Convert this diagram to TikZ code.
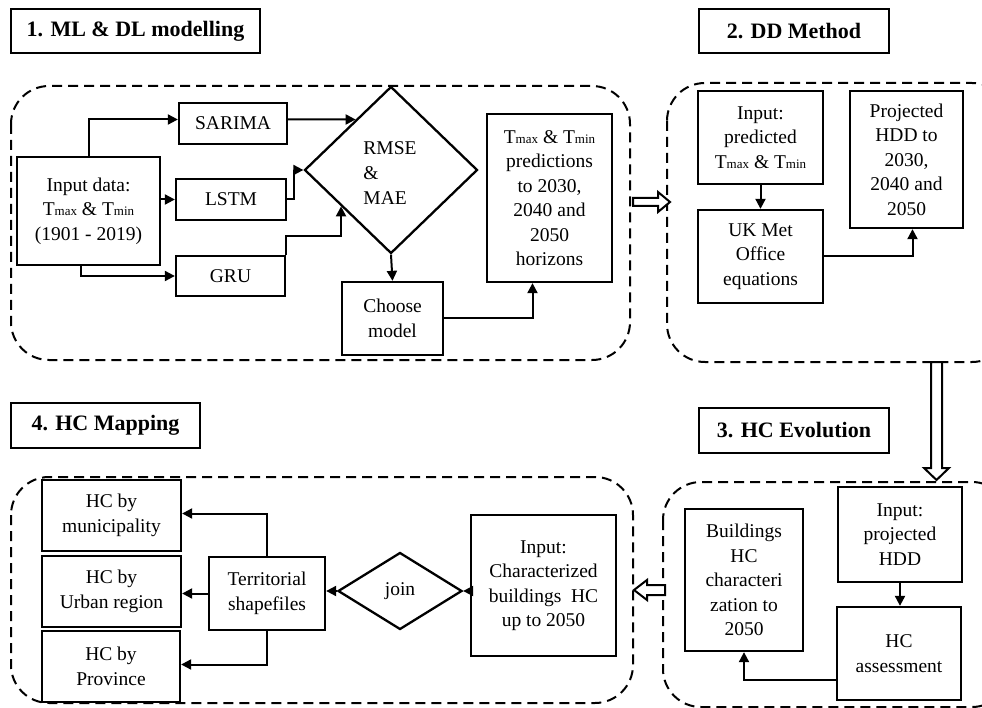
\documentclass[tikz,border=0pt]{standalone}
\usepackage{fontspec}
\setmainfont{Liberation Serif}
\usetikzlibrary{shapes.geometric,arrows.meta,calc}
\newcommand{\Tm}[1]{T{\fontsize{13}{13}\selectfont #1}}
\begin{document}
\begin{tikzpicture}[x=1pt,y=-1pt,
  box/.style={draw,line width=2.3pt,align=center,inner sep=0pt,font=\fontsize{19.5}{24.5}\selectfont},
  dbox/.style={box,diamond,shape aspect=1},
  ttl/.style={draw,line width=1.8pt,inner sep=0pt,font=\fontsize{22}{26}\selectfont\bfseries},
  panel/.style={draw,line width=2pt,dash pattern=on 10pt off 6pt,rounded corners=38pt},
  arr/.style={line width=2pt,-{Triangle[length=10pt,width=10pt]}},
  hollow/.style={draw,line width=2pt,fill=white,line join=miter}
]
\useasboundingbox (0,0) rectangle (982,708);
\clip (0,0) rectangle (982,708);

% titles
\node[ttl,minimum width=249pt,minimum height=44pt] (t1) at (135.5,31) {1. ML \& DL modelling};
\node[ttl,minimum width=190pt,minimum height=44pt] (t2) at (794,31) {2. DD Method};
\node[ttl,minimum width=190pt,minimum height=45pt] (t3) at (794,430.5) {3. HC Evolution};
\node[ttl,minimum width=189pt,minimum height=45pt] (t4) at (105.5,425.5) {4. HC Mapping};

% panels
\draw[panel] (11,86) rectangle (630,360);
\draw[panel] (667,83) rectangle (1010,362);
\draw[panel] (663,482) rectangle (1010,707);
\draw[panel] (11,477) rectangle (633,703);

% panel 1
\node[box,minimum width=143pt,minimum height=108pt] (inp) at (88.5,211) {Input data:\\\Tm{max} \& \Tm{min}\\(1901 - 2019)};
\node[box,minimum width=108pt,minimum height=41pt] (sar) at (233,123.5) {SARIMA};
\node[box,minimum width=110pt,minimum height=41pt] (lstm) at (231,199.5) {LSTM};
\node[box,minimum width=109pt,minimum height=40pt] (gru) at (230.5,276) {GRU};
\node[dbox,minimum width=173pt,minimum height=167pt] (dia) at (391,170) {};
\node[font=\fontsize{19.5}{25}\selectfont,align=left,inner sep=0pt] (diat) at (390,173) {RMSE\\\&\\MAE};
\node[box,minimum width=101pt,minimum height=73pt] (cho) at (392.5,318.5) {Choose\\model};
\node[box,minimum width=125pt,minimum height=168pt] (pred) at (549.5,198) {\Tm{max} \& \Tm{min}\\predictions\\to 2030,\\2040 and\\2050\\horizons};

\coordinate (s1) at ([yshift=4pt]sar.east -| dia.center);
\draw[arr] (inp.north) |- ([yshift=4pt]sar.west);
\draw[arr] (inp.east |- lstm.west) -- (lstm.west);
\draw[arr] ([xshift=-8pt]inp.south) |- (gru.west);
\draw[arr] ([yshift=4pt]sar.east) -- (intersection of {[yshift=4pt]sar.east}--s1 and dia.west--dia.north);
\draw[arr] (lstm.east) -- ++(7,0) |- (dia.west);
\draw[arr] (gru.north east) -- ++(0,-19) -| ($(dia.west)!0.43!(dia.south)$);
\draw[arr] (dia.south) -- (cho.north);
\draw[arr] (cho.east) -| ([xshift=-17pt]pred.south);

% panel 2
\node[box,minimum width=125pt,minimum height=93pt] (ipt) at (760.5,137.5) {Input:\\predicted\\\Tm{max} \& \Tm{min}};
\node[box,minimum width=125pt,minimum height=93pt] (ukm) at (760.5,256.5) {UK Met\\Office\\equations};
\node[box,minimum width=113pt,minimum height=137pt] (phdd) at (906.5,159.5) {Projected\\HDD to\\2030,\\2040 and\\2050};
\draw[arr] (ipt.south) -- (ukm.north);
\draw[arr] (ukm.east) -| ([xshift=6pt]phdd.south);

% panel 3
\node[box,minimum width=124pt,minimum height=95pt] (iphdd) at (900,534.5) {Input:\\projected\\HDD};
\node[box,minimum width=124pt,minimum height=93pt] (hca) at (899,653.5) {HC\\assessment};
\node[box,minimum width=118pt,minimum height=142pt] (bhc) at (744,580) {Buildings\\HC\\characteri\\zation to\\2050};
\draw[arr] (iphdd.south) -- (iphdd.south |- hca.north);
\draw[arr] ([yshift=-26pt]hca.west) -| (bhc.south);

% panel 4
\node[box,minimum width=145pt,minimum height=141pt] (ich) at (543.5,585.5) {Input:\\Characterized\\buildings~~HC\\up to 2050};
\node[dbox,minimum width=124pt,minimum height=77pt] (join) at (400,591) {};
\node[font=\fontsize{19.5}{24.5}\selectfont,inner sep=0pt] (joint) at (400,591) {join};
\node[box,minimum width=116pt,minimum height=73pt] (ter) at (267,593.5) {Territorial\\shapefiles};
\node[box,minimum width=139pt,minimum height=71pt] (hcm) at (111.5,515.5) {HC by\\municipality};
\node[box,minimum width=139pt,minimum height=71pt] (hcu) at (111.5,591.5) {HC by\\Urban region};
\node[box,minimum width=138pt,minimum height=71pt] (hcp) at (111,666.5) {HC by\\Province};
\draw[arr] (ich.west |- join.east) -- (join.east);
\draw[arr] (join.west) -- (join.west -| ter.east);
\draw[arr] (ter.north) |- ([yshift=2pt]hcm.east);
\draw[arr] (ter.west) -- (ter.west -| hcu.east);
\draw[arr] (ter.south) |- ([yshift=2pt]hcp.east);

% hollow arrows between panels
\draw[hollow] (633,198) -- (658,198) -- (658,192) -- (670,202) -- (658,212) -- (658,206) -- (633,206) -- cycle;
\draw[hollow] (931,362) -- (942,362) -- (942,468) -- (949,468) -- (936.5,480) -- (924,468) -- (931,468) -- cycle;
\draw[hollow] (665,585) -- (647,585) -- (647,580) -- (634,590) -- (647,600) -- (647,595) -- (665,595) -- cycle;
\end{tikzpicture}
\end{document}
